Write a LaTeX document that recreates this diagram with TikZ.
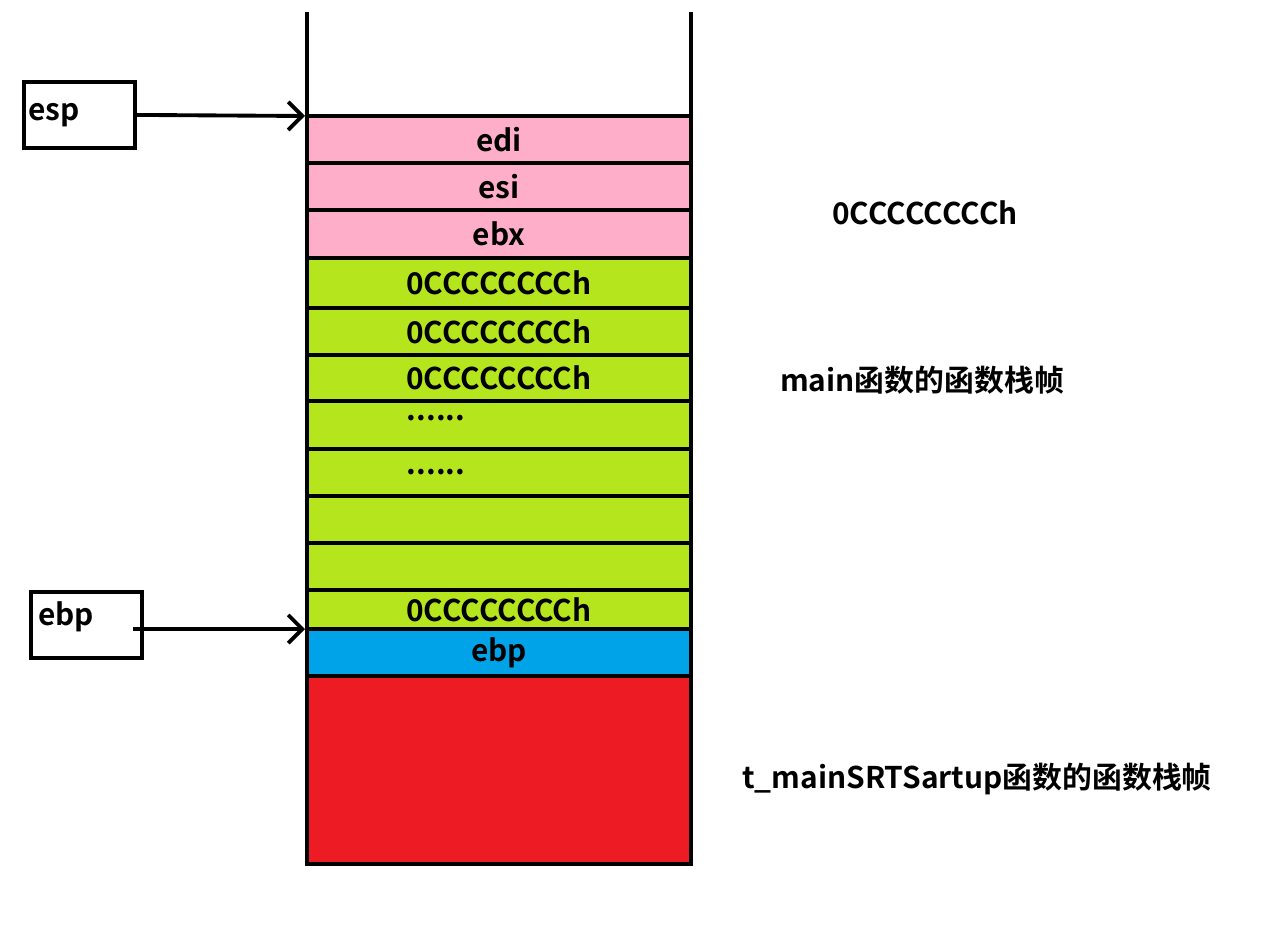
\documentclass[tikz,border=0pt]{standalone}
\usepackage{fontspec}
\setmainfont{Noto Sans CJK SC Bold}
\usetikzlibrary{arrows.meta}
\definecolor{pinkc}{RGB}{255,174,201}
\definecolor{greenc}{RGB}{181,230,29}
\definecolor{bluec}{RGB}{0,162,232}
\definecolor{redc}{RGB}{237,28,36}
\begin{document}
\begin{tikzpicture}[x=0.02cm,y=-0.02cm,
  cell/.style={draw=black,line width=2.2pt},
  lab/.style={font=\fontsize{17}{20}\selectfont},
  reg/.style={draw=black,line width=2.2pt,minimum width=111*0.02cm,minimum height=66*0.02cm,anchor=north west,inner sep=0pt},
  ptr/.style={line width=2.2pt,-{Straight Barb[length=8pt,width=16pt,line width=2.2pt]}}]
\useasboundingbox (0,0) rectangle (1270,942);
\def\cellrow#1#2#3#4{\fill[#1] (307,#2) rectangle (691,#3); \draw[cell] (307,#2) -- (691,#2);
  \node[lab] at (499,{(#2+#3)/2}) {#4};}
\cellrow{pinkc}{116}{163}{edi}
\cellrow{pinkc}{163}{210}{esi}
\cellrow{pinkc}{210}{258}{ebx}
\cellrow{greenc}{258}{308}{0CCCCCCCCh}
\cellrow{greenc}{308}{355}{0CCCCCCCCh}
\cellrow{greenc}{355}{401}{0CCCCCCCCh}
\fill[greenc] (307,401) rectangle (691,449); \draw[cell] (307,401)--(691,401); \node[lab] at (436,418) {......};
\fill[greenc] (307,449) rectangle (691,496); \draw[cell] (307,449)--(691,449); \node[lab] at (436,472) {......};
\cellrow{greenc}{496}{543}{}
\cellrow{greenc}{543}{590}{}
\cellrow{greenc}{590}{629}{0CCCCCCCCh}
\cellrow{bluec}{629}{676}{ebp}
\fill[redc] (307,676) rectangle (691,864);
\draw[cell] (307,676)--(691,676);
\draw[cell] (307,864)--(691,864);
\draw[cell] (307,12)--(307,866);
\draw[cell] (691,12)--(691,866);
\coordinate (t1) at (305,116);
\coordinate (t2) at (305,629);
\node[reg,label={[lab,anchor=west]west:esp}] (esp) at (22,80) {};
\node[reg] (ebpb) at (29,590) {};
\node[lab,anchor=west] at (32,617) {ebp};
\draw[ptr] (esp.east) -- (t1);
\draw[ptr] (133,629) -- (t2);
\node[lab] (n1) at (925,213) {0CCCCCCCCh};
\node[lab] (n2) at (922,380) {main函数的函数栈帧};
\node[lab] (n3) at (977,779) {t\_mainSRTSartup函数的函数栈帧};
\end{tikzpicture}
\end{document}
